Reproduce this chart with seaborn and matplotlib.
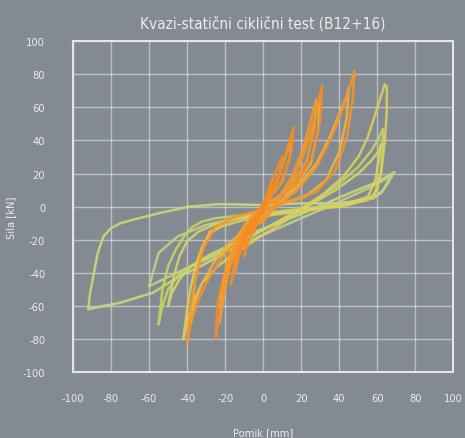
import pandas as pd
import matplotlib
matplotlib.use("Agg")
import matplotlib.pyplot as plt
import seaborn as sns

# hysteresis loops (pomik [mm], sila [kN])
# greenish loops - big amplitudes
g3_x = [-4, 10, 25, 45, 60, 68, 66, 63, 58, 40, 20, 0, -23, -39, -55, -67, -75, -80, -84, -87, -89, -91, -92,
        -84, -75, -58, -44, -33, -23, -12, -4]
g3_y = [-15, -9, -2, 8, 15, 20, 16, 10, 5, 2, 2, 1, 1.5, 0, -4, -7.5, -10, -13, -18, -28, -40, -52, -62,
        -60, -58, -52, -42, -36, -30, -22, -15]
g2_x = [-55, -53, -50, -45, -38, -28, -15, 0, 20, 38, 50, 57, 61, 63, 63, 62, 60, 55, 40, 15, -10, -25, -32,
        -37, -41, -46, -50, -53, -55]
g2_y = [-71, -60, -50, -42, -36, -30, -24, -14, -1, 12, 24, 34, 42, 47, 40, 22, 10, 4, 0, -2, -5, -7, -9,
        -12, -17, -26, -36, -50, -71]
g1_x = [-42, -40, -37, -32, -24, -12, 0, 15, 30, 42, 50, 55, 59, 62, 64, 65, 65, 64, 62, 58, 45, 25, 5, -10,
        -22, -28, -32, -35, -38, -40, -42]
g1_y = [-80, -70, -58, -46, -36, -26, -17, -6, 6, 18, 30, 42, 56, 67, 74, 72, 58, 40, 20, 6, 1, -2, -5, -8,
        -12, -16, -24, -34, -48, -62, -80]
g4_x = [-50, -48, -44, -38, -28, -15, 0, 20, 38, 50, 57, 61, 62, 61, 59, 55, 45, 30, 8, -12, -26, -34, -40,
        -44, -47, -50]
g4_y = [-60, -52, -44, -36, -29, -22, -14, -2, 10, 20, 28, 34, 38, 30, 16, 6, 2, -1, -4, -7, -11, -15, -21,
        -30, -42, -60]
g5_x = [-60, -40, -20, 0, 20, 40, 55, 65, 69, 66, 62, 50, 30, 10, -10, -30, -45, -55, -60]
g5_y = [-48, -37, -27, -17, -7, 3, 11, 17, 21, 15, 8, 3, 0, -3, -6, -11, -18, -28, -48]

# orange / yellow loops - small and mid amplitudes
o1_x = [0, 2, 4, 5, 4, 1, -2, -4, -5, -4, -1, 0]
o1_y = [0, 8, 14, 17, 10, 2, -6, -12, -16, -9, -2, 0]
o2_x = [0, 3, 7, 10, 9, 5, 0, -4, -8, -10, -9, -5, 0]
o2_y = [-2, 10, 22, 30, 20, 8, 0, -10, -22, -30, -20, -8, -2]
o3_x = [0, 4, 9, 13, 16, 15, 11, 5, 0, -5, -10, -14, -17, -15, -10, -4, 0]
o3_y = [-4, 8, 22, 36, 48, 34, 18, 8, 2, -8, -20, -34, -47, -32, -16, -6, -4]
o4_x = [0, 5, 10, 13, 15, 14, 10, 4, -2, -7, -12, -15, -14, -9, -3, 0]
o4_y = [-5, 9, 24, 35, 43, 30, 15, 6, -2, -12, -26, -40, -28, -14, -6, -5]
o5_x = [0, 8, 15, 21, 25, 28, 27, 23, 15, 5, -5, -12, -18, -22, -21, -17, -10, -3, 0]
o5_y = [-8, 5, 18, 35, 52, 65, 48, 28, 12, 4, -4, -16, -38, -62, -45, -28, -16, -10, -8]
o6_x = [0, 9, 17, 23, 28, 31, 30, 26, 17, 6, -5, -13, -20, -25, -24, -19, -11, -3, 0]
o6_y = [-9, 5, 20, 38, 58, 73, 52, 30, 13, 4, -5, -18, -45, -80, -58, -34, -18, -11, -9]
o7_x = [0, 8, 16, 22, 27, 30, 29, 25, 16, 5, -6, -13, -19, -23, -22, -18, -10, -3, 0]
o7_y = [-9, 4, 17, 34, 52, 67, 47, 26, 11, 3, -5, -17, -40, -70, -50, -30, -16, -10, -9]
o8_x = [-40, -38, -34, -28, -20, -8, 5, 18, 28, 36, 42, 46, 48, 47, 44, 38, 28, 10, 0, -15, -25, -31, -35,
        -38, -40]
o8_y = [-82, -70, -56, -42, -28, -14, -2, 10, 24, 42, 60, 74, 82, 64, 42, 22, 9, 2, -2, -6, -12, -24, -40,
        -60, -82]
o9_x = [-38, -36, -32, -26, -18, -6, 6, 18, 28, 35, 40, 44, 45, 44, 40, 33, 22, 8, -4, -18, -28, -33, -36,
        -38]
o9_y = [-70, -58, -46, -34, -22, -11, 0, 12, 26, 42, 56, 67, 72, 54, 33, 16, 6, 1, -3, -8, -15, -28, -46,
        -70]

loops = {
    "G3": (g3_x, g3_y, "#cdd77a"),
    "G5": (g5_x, g5_y, "#c3cf86"),
    "G2": (g2_x, g2_y, "#c6d35e"),
    "G4": (g4_x, g4_y, "#d3d468"),
    "G1": (g1_x, g1_y, "#d9cf5c"),
    "O9": (o9_x, o9_y, "#f0b23c"),
    "O8": (o8_x, o8_y, "#f5962a"),
    "O7": (o7_x, o7_y, "#eeb844"),
    "O6": (o6_x, o6_y, "#f58c26"),
    "O5": (o5_x, o5_y, "#f39a2c"),
    "O4": (o4_x, o4_y, "#f5a530"),
    "O3": (o3_x, o3_y, "#f58a24"),
    "O2": (o2_x, o2_y, "#f68a22"),
    "O1": (o1_x, o1_y, "#f68a22"),
}

rows = []
for name, (xs, ys, _) in loops.items():
    for i, (xv, yv) in enumerate(zip(xs, ys)):
        rows.append({"loop": name, "step": i, "pomik": xv, "sila": yv})
df = pd.DataFrame(rows)
palette = {name: c for name, (_, _, c) in loops.items()}

bg = "#848a92"
txt = "#ececec"

sns.set_theme(style="dark")
plt.rcParams["font.family"] = ["DejaVu Sans"]
plt.rcParams["font.stretch"] = "condensed"
plt.rcParams["axes.unicode_minus"] = False

fig = plt.figure(figsize=(4.65, 4.39), dpi=100, facecolor=bg)
ax = fig.add_axes([0.157, 0.150, 0.818, 0.754])
ax.set_facecolor(bg)

sns.lineplot(data=df, x="pomik", y="sila", hue="loop", palette=palette,
             sort=False, estimator=None, units="loop", legend=False,
             linewidth=1.8, alpha=0.9, ax=ax)

ax.set_xlim(-100, 100)
ax.set_ylim(-100, 100)
ax.set_xticks(range(-100, 101, 20))
ax.set_yticks(range(-100, 101, 20))
ax.grid(True, color="white", alpha=0.45, linewidth=1)
ax.set_axisbelow(True)
for sp in ax.spines.values():
    sp.set_color("#e4e4ea")
    sp.set_linewidth(1.5)
ax.tick_params(length=0, colors=txt, labelsize=8)
ax.tick_params(axis="x", pad=15)
ax.tick_params(axis="y", pad=20)

ax.set_title("Kvazi-statični ciklični test (B12+16)", color=txt, fontsize=11, pad=10)
ax.set_xlabel("Pomik [mm]", color=txt, fontsize=8)
ax.set_ylabel("Sila [kN]", color=txt, fontsize=8)
ax.xaxis.set_label_coords(0.5, -0.166)
ax.yaxis.set_label_coords(-0.15, 0.47)

fig.savefig("out.png", dpi=100, facecolor=bg)
